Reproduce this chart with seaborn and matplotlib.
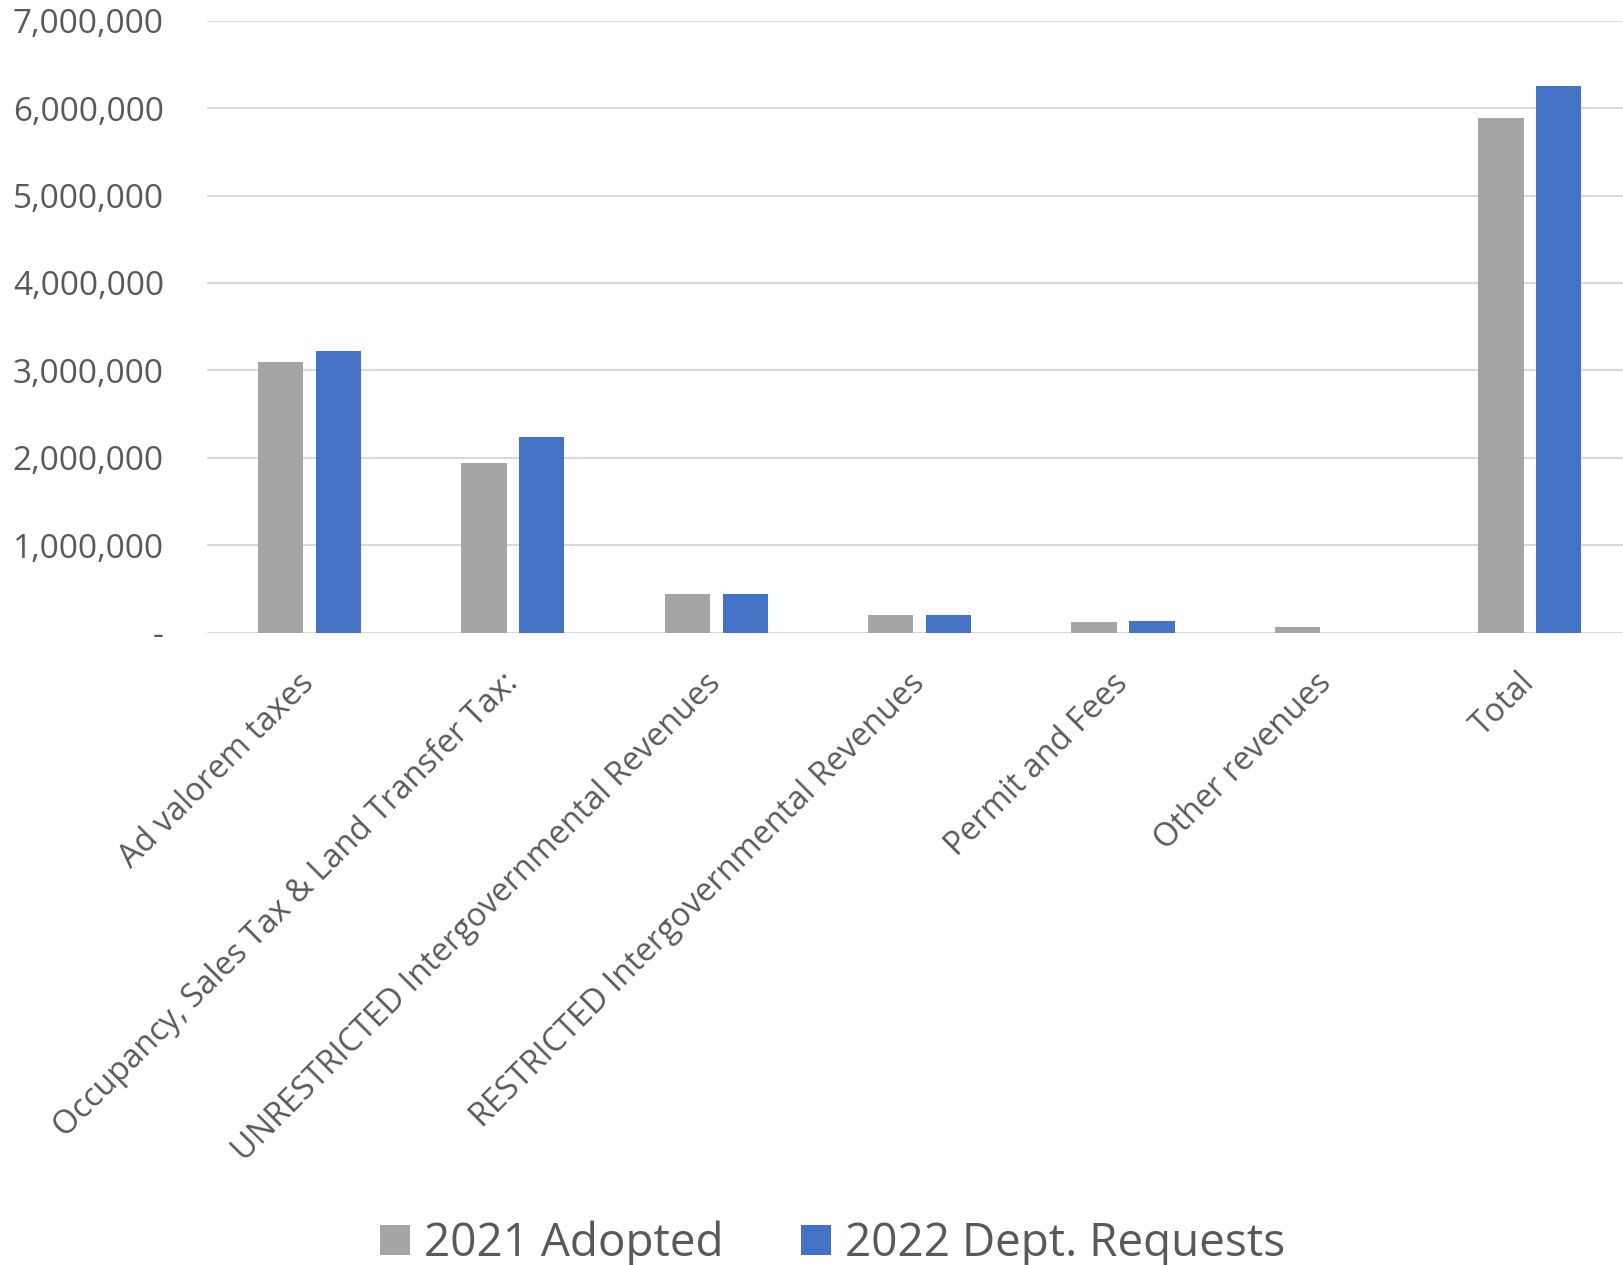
import matplotlib
matplotlib.use("Agg")
import matplotlib.pyplot as plt
import matplotlib.ticker as mticker
import seaborn as sns
import pandas as pd

categories = ["Ad valorem taxes", "Occupancy, Sales Tax & Land Transfer Tax:",
              "UNRESTRICTED Intergovernmental Revenues", "RESTRICTED Intergovernmental Revenues",
              "Permit and Fees", "Other revenues", "Total"]
adopted_2021 = [3100000, 1940000, 442000, 198000, 118000, 66000, 5890000]
requests_2022 = [3220000, 2236000, 442000, 195000, 137000, 0, 6255000]
series_names = ["2021 Adopted", "2022 Dept. Requests"]
y_ticks = [0, 1000000, 2000000, 3000000, 4000000, 5000000, 6000000, 7000000]

df = pd.DataFrame({
    "category": categories * 2,
    "value": adopted_2021 + requests_2022,
    "series": [series_names[0]] * len(categories) + [series_names[1]] * len(categories),
})

sns.set_theme(style="white")
plt.rcParams['font.family'] = ['Open Sans', 'DejaVu Sans']
text_color = "#595959"

fig = plt.figure(figsize=(16.23, 12.65), dpi=100)
ax = fig.add_axes([0.1275, 0.5, 0.8725, 0.4836])

sns.barplot(data=df, x="category", y="value", hue="series", order=categories,
            hue_order=series_names, palette=["#A5A5A5", "#4472C4"], saturation=1,
            width=0.57, gap=0.218, ax=ax, legend=True, linewidth=0)

ax.set_ylim(0, 7000000)
ax.set_xlim(-0.504, 6.458)
ax.set_yticks(y_ticks)
ax.yaxis.set_major_formatter(mticker.FuncFormatter(lambda v, p: "-" if v == 0 else f"{v:,.0f}"))
ax.yaxis.grid(True, color="#d9d9d9", linewidth=1.5)
ax.set_axisbelow(True)
for s in ax.spines.values():
    s.set_visible(False)
ax.set_xlabel("")
ax.set_ylabel("")
ax.tick_params(axis="y", length=0, pad=31, labelsize=24, labelcolor=text_color)
ax.tick_params(axis="x", length=0, pad=33, labelsize=23.4, labelcolor=text_color)
for lbl in ax.get_xticklabels():
    lbl.set_rotation(45)
    lbl.set_ha("right")
    lbl.set_va("center")
    lbl.set_rotation_mode("anchor")

handles, labels = ax.get_legend_handles_labels()
ax.get_legend().remove()
leg = fig.legend(handles, labels, loc="center", bbox_to_anchor=(0.513, 0.0166), ncol=2,
                 frameon=False, fontsize=33, handlelength=0.65, handleheight=0.65,
                 handletextpad=0.3, columnspacing=1.7)
for t in leg.get_texts():
    t.set_color(text_color)

fig.savefig("out.png", dpi=100)
